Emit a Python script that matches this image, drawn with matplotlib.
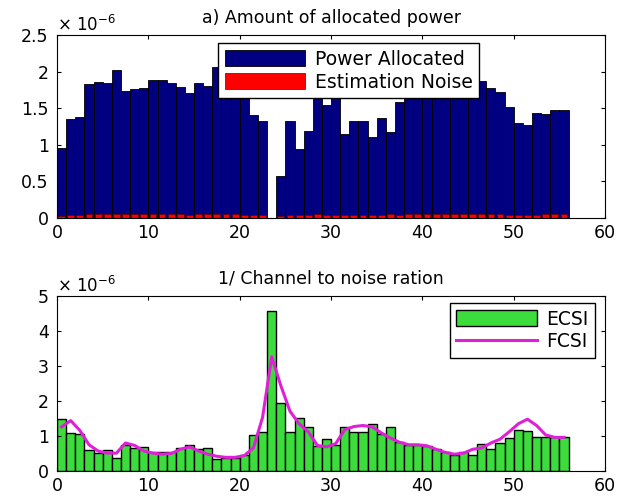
import matplotlib
matplotlib.use('Agg')
import matplotlib.pyplot as plt
import numpy as np

# values in units of 1e-6, one per subcarrier (56 of them)
power_alloc = [0.95, 1.35, 1.38, 1.83, 1.86, 1.84, 2.02, 1.73, 1.76, 1.78,
               1.88, 1.88, 1.85, 1.79, 1.71, 1.84, 1.80, 2.06, 1.85, 1.75,
               1.70, 1.41, 1.32, 0.00, 0.57, 1.32, 0.94, 1.19, 1.72, 1.54,
               1.78, 1.15, 1.32, 1.32, 1.10, 1.36, 1.17, 1.59, 1.80, 1.85,
               1.82, 1.88, 1.84, 1.86, 1.80, 1.83, 1.87, 1.78, 1.72, 1.52,
               1.30, 1.27, 1.44, 1.42, 1.47, 1.48]
est_noise = [0.03, 0.04, 0.04, 0.05, 0.05, 0.05, 0.05, 0.05, 0.05, 0.05,
             0.05, 0.05, 0.05, 0.05, 0.04, 0.05, 0.05, 0.05, 0.05, 0.05,
             0.04, 0.04, 0.04, 0.00, 0.03, 0.04, 0.04, 0.04, 0.05, 0.04,
             0.04, 0.04, 0.04, 0.04, 0.04, 0.04, 0.05, 0.04, 0.05, 0.05,
             0.05, 0.06, 0.06, 0.06, 0.06, 0.05, 0.05, 0.05, 0.05, 0.04,
             0.04, 0.04, 0.04, 0.05, 0.05, 0.05]

ecsi = [1.48, 1.09, 1.05, 0.59, 0.51, 0.60, 0.37, 0.73, 0.65, 0.68,
        0.53, 0.55, 0.55, 0.65, 0.75, 0.62, 0.65, 0.35, 0.37, 0.38,
        0.45, 1.03, 1.12, 4.58, 1.94, 1.12, 1.51, 1.26, 0.71, 0.92,
        0.73, 1.27, 1.12, 1.12, 1.35, 1.05, 1.27, 0.82, 0.73, 0.73,
        0.71, 0.62, 0.53, 0.45, 0.55, 0.45, 0.78, 0.62, 0.80, 0.94,
        1.16, 1.15, 0.98, 0.98, 0.98, 0.96]
fcsi = [1.26, 1.44, 1.16, 0.75, 0.57, 0.51, 0.51, 0.80, 0.73, 0.57,
        0.51, 0.48, 0.50, 0.62, 0.69, 0.57, 0.48, 0.42, 0.39, 0.39,
        0.44, 0.66, 1.53, 3.26, 2.44, 1.71, 1.35, 1.12, 0.73, 0.69,
        0.78, 1.18, 1.27, 1.30, 1.26, 1.09, 0.94, 0.82, 0.75, 0.75,
        0.72, 0.62, 0.53, 0.48, 0.51, 0.62, 0.66, 0.80, 0.91, 1.12,
        1.35, 1.48, 1.30, 1.03, 0.96, 0.96]

xpos = np.arange(len(power_alloc)) + 0.5

plt.rcParams['font.family'] = 'DejaVu Sans'
fig = plt.figure(figsize=(6.3, 5.0), dpi=100)

# top panel
ax = fig.add_axes([0.0905, 0.564, 0.87, 0.366])
ax.bar(xpos, power_alloc, width=1.0, color=(0, 0, 0.5), edgecolor='black',
       linewidth=0.6, label='Power Allocated')
ax.bar(xpos, est_noise, width=0.75, color='red', edgecolor=(0.4, 0, 0),
       linewidth=0.5, label='Estimation Noise')
ax.set_xlim(0, 60)
ax.set_ylim(0, 2.5)
ax.set_xticks(range(0, 61, 10))
ax.set_yticks([0, 0.5, 1, 1.5, 2, 2.5])
ax.set_yticklabels(['0', '0.5', '1', '1.5', '2', '2.5'])
ax.tick_params(direction='in', top=True, right=True, length=3, labelsize=12.5)
ax.tick_params(axis='x', pad=4)
ax.tick_params(axis='y', pad=6)
ax.set_title('a) Amount of allocated power', fontsize=12.5, pad=9)
ax.text(0.0, 1.02, r'$\times$ 10$^{-6}$', transform=ax.transAxes, fontsize=12)
ax.legend(loc='upper left', bbox_to_anchor=(0.294, 0.955), borderaxespad=0,
          fontsize=13.5, handlelength=4.3, handleheight=0.95, fancybox=False,
          framealpha=1, edgecolor='black', borderpad=0.35, labelspacing=0.2,
          handletextpad=0.5)

# bottom panel
bx = fig.add_axes([0.0905, 0.058, 0.87, 0.35])
bars = bx.bar(xpos, ecsi, width=1.0, color='#3ddc3d', edgecolor='black',
              linewidth=1.0, label='ECSI')
line, = bx.plot(xpos, fcsi, color='#e020d8', linewidth=2.2, label='FCSI')
bx.set_xlim(0, 60)
bx.set_ylim(0, 5)
bx.set_xticks(range(0, 61, 10))
bx.set_yticks(range(0, 6))
bx.tick_params(direction='in', top=True, right=True, length=3, labelsize=12.5)
bx.tick_params(axis='x', pad=4)
bx.tick_params(axis='y', pad=6)
bx.set_title('1/ Channel to noise ration', fontsize=12.5, pad=9)
bx.text(0.0, 1.02, r'$\times$ 10$^{-6}$', transform=bx.transAxes, fontsize=12)
bx.legend([bars, line], ['ECSI', 'FCSI'], loc='upper right',
          bbox_to_anchor=(0.982, 0.96), borderaxespad=0, fontsize=13.5,
          handlelength=4.3, handleheight=0.95, fancybox=False, framealpha=1,
          edgecolor='black', borderpad=0.35, labelspacing=0.2, handletextpad=0.5)

fig.savefig('out.png', dpi=100)
